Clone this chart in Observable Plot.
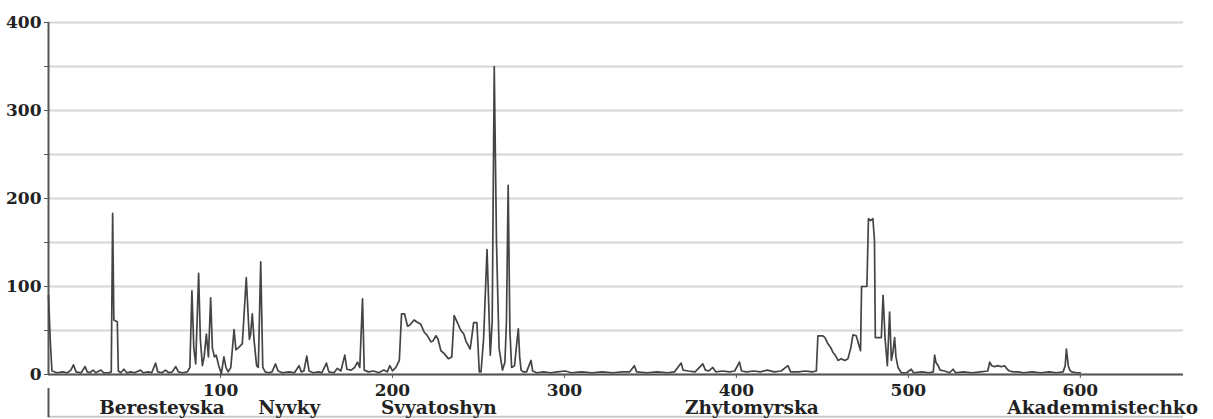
<!DOCTYPE html>
<html>
<head>
<meta charset="utf-8">
<script src="https://cdn.jsdelivr.net/npm/d3@7"></script>
<script src="https://cdn.jsdelivr.net/npm/@observablehq/plot@0.6"></script>
<style>
  html, body { margin: 0; padding: 0; background: #fff; }
  #chart svg { display: block; }
</style>
</head>
<body>
<div id="chart"></div>
<script>
// Series: position along route (x) and value (y)
const xs = [0,1,2,5,8,11,13,14.5,16,19,21.3,22.5,24,26,27.5,30.6,32,35,36.5,37.3,38,40,40.6,42,43.8,45.5,48,50,53.5,55,58,60,62.3,63.5,66,68,70,72,74,75.5,78,80.7,82.2,83.4,84.5,85.6,87.3,88.3,89.5,90.5,91.8,93,94.3,95.3,96.5,97.5,99,100.5,102,103.2,104.5,106,107.9,109,110.8,112.7,115,116.8,117.5,118.5,119.5,121,122,123.4,124.6,126,128,130,132,133.5,136,140,143,145.7,147,148.5,150.2,151.5,154,157,159,161.6,163,166,168,170,172.3,173.5,176,178,179.7,181,182.6,183.6,186,189,192,195,197,198.5,200,202,204,205.3,207,208.8,210,212.6,214,216.5,218.5,220,222.4,223.5,225.3,226.5,228.2,230,232.5,234.5,235.9,237.5,239.8,241.5,242.7,245.2,246.3,247.2,249.1,250.5,251.5,253,255,256.9,258,259.2,260.5,262,264,265.4,266.3,267.3,268.3,269.3,271,272,273.2,274,274.8,276,278,280.6,281.5,284,288,292,296,300.5,304,310,316,322,328,334,338,340.7,342,348,354,360,364,367.9,369,372,376,380.5,382,384,386.3,388,392,396,399,401.8,403,406,410,414,418,422,426,430,431.5,436,440,444,446.5,447.4,450.3,451.5,453.2,455,456.2,457.5,459.1,461,463,464.9,466.5,467.8,469.7,471,472.2,472.8,475.9,476.8,478,479.4,480.3,480.8,484.3,485.3,486.5,487.8,489.1,490.1,491,492,492.8,494,495.9,499,501.7,503,508,512,514.5,515.3,516,517.3,518.5,521,524,526,527.5,532,537,542,546.2,547.3,548.5,550,552.2,554,556,557.5,558.8,561,563.8,567,572,577,582,586,590,591.2,591.9,593,593.9,595,598,600];
const ys = [90,40,4,2,3,2,5,11,3,2,9,3,2,5,2,5,2,2,3,183,62,60,4,2,6,2,3,2,5,2,3,2,13,3,2,5,2,3,9,3,2,3,8,95,30,12,115,40,10,20,46,20,87,30,20,22,10,1,20,8,3,8,51,28,31,35,110,40,45,69,40,10,8,128,8,3,2,3,12,4,2,3,2,10,3,4,21,4,2,3,2,13,3,2,7,4,22,6,5,8,14,8,86,5,3,4,2,5,3,10,4,8,16,69,69,55,56,62,60,57,48,45,37,38,44,40,27,24,18,20,67,60,50,46,38,29,45,59,59,3,3,40,142,22,60,350,150,30,5,14,60,215,50,8,10,30,52,20,5,3,3,16,4,2,3,2,3,4,2,3,2,3,2,3,3,10,3,2,3,2,3,13,5,4,3,12,5,4,8,3,4,3,4,14,4,3,4,3,5,3,4,10,3,3,4,3,4,44,44,42,35,30,25,22,16,18,16,18,30,45,44,35,27,100,100,177,175,177,152,42,42,90,40,10,71,16,25,42,20,8,2,2,6,2,3,2,3,22,14,10,5,4,2,6,2,3,2,3,4,14,10,9,10,9,10,6,4,3,3,2,3,2,3,2,3,10,29,10,5,3,2,2];

// Axis ticks
const xTicks = [100, 200, 300, 400, 500, 600];
const yTicks = [0, 50, 100, 150, 200, 250, 300, 350, 400];

// Station labels along the route
const stationNames = ["Beresteyska", "Nyvky", "Svyatoshyn", "Zhytomyrska", "Akademmistechko"];
const stationPos = [66, 140, 227, 409, 613];

const data = xs.map((x, i) => ({x, y: ys[i]}));
const stations = stationNames.map((name, i) => ({name, x: stationPos[i]}));

const chart = Plot.plot({
  width: 1213,
  height: 419,
  marginLeft: 48,
  marginRight: 30,
  marginTop: 22,
  marginBottom: 45,
  style: {fontFamily: "'DejaVu Serif', serif", fontWeight: "bold", fontSize: "17px", color: "#222", background: "#fff", overflow: "visible"},
  x: {domain: [0, 660]},
  y: {domain: [0, 400]},
  marks: [
    Plot.gridY(yTicks, {stroke: "#d6d6d6", strokeOpacity: 1, strokeWidth: 2}),
    Plot.ruleY([0], {stroke: "#555", strokeWidth: 2}),
    Plot.ruleX([0], {stroke: "#555", strokeWidth: 2}),
    Plot.ruleY([-48], {stroke: "#c8c8c8", strokeWidth: 2}),
    Plot.ruleX([0], {y1: -16, y2: -49, stroke: "#555", strokeWidth: 2}),
    Plot.axisY(yTicks, {tickFormat: d => d % 100 === 0 ? d : "", tickSize: 4, tickPadding: 3, stroke: "#555", label: null, fontSize: 17}),
    Plot.axisX(xTicks, {tickSize: 4, tickPadding: 5, stroke: "#555", label: null, fontSize: 17}),
    Plot.line(data, {x: "x", y: "y", stroke: "#444", strokeWidth: 1.7}),
    Plot.text(stations, {x: "x", y: 0, text: "name", dy: 34, fontSize: 18.5, fontWeight: "bold", fill: "#222", lineAnchor: "middle"})
  ]
});
document.getElementById("chart").appendChild(chart);
</script>
</body>
</html>
